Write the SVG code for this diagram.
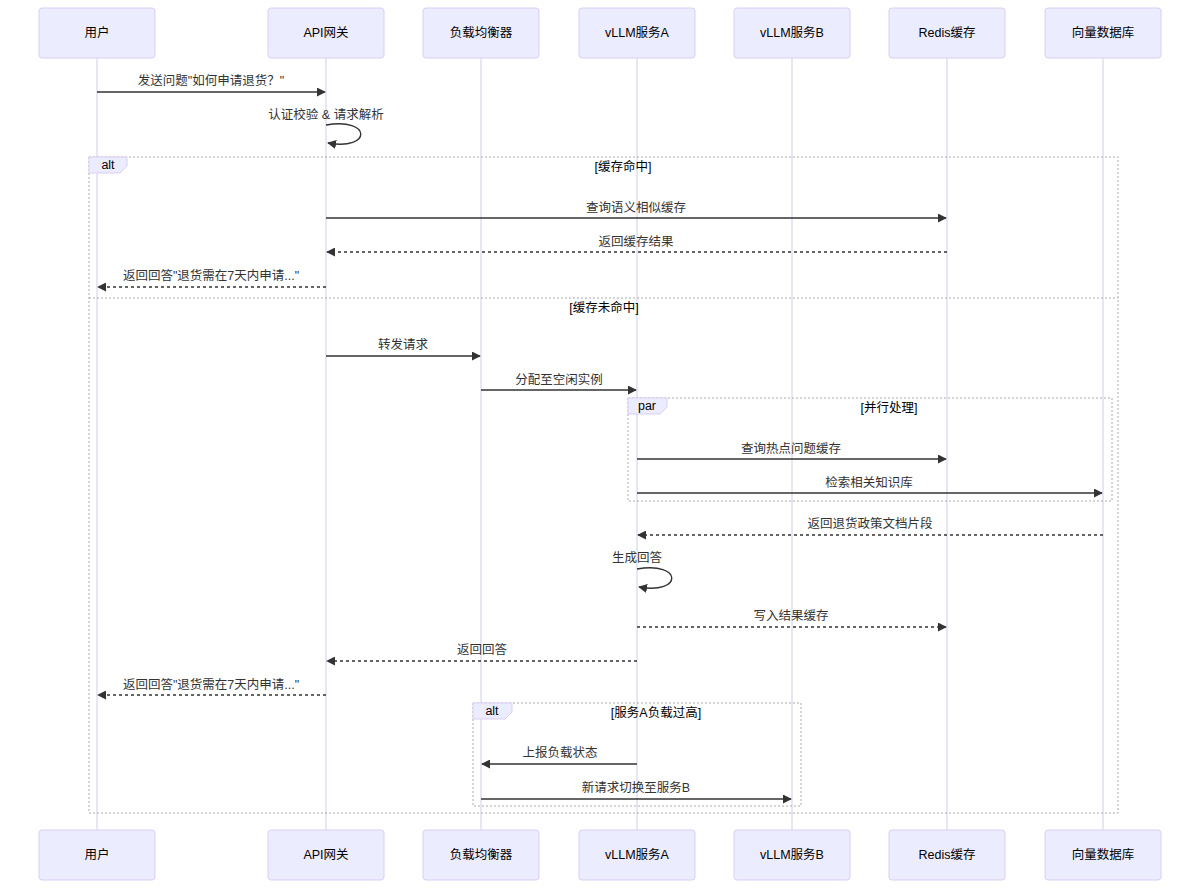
<svg xmlns="http://www.w3.org/2000/svg" width="1200" height="889" viewBox="0 0 1200 889">
<style>
text{font-family:"Liberation Sans","Noto Sans CJK SC",sans-serif;font-size:12.5px;fill:#333;}
.actor rect{fill:#ECECFF;stroke:#DACEF3;stroke-width:1;}
.actor text{text-anchor:middle;dominant-baseline:central;font-size:12.5px;fill:#000;}
.life{stroke:#CFCDE6;stroke-width:1;}
.msg{stroke:#333;stroke-width:1.4;fill:none;}
.dash{stroke-dasharray:3,3;}
.mt{text-anchor:middle;}
.loop{fill:none;stroke:#aaa;stroke-width:1;stroke-dasharray:2,2;}
.lbl{fill:#ECECFF;stroke:#DACEF3;stroke-width:1;}
.lt{text-anchor:middle;dominant-baseline:central;fill:#000;}
.cond{text-anchor:middle;dominant-baseline:central;fill:#000;}
</style>
<defs>
<marker id="ah" viewBox="0 0 10 10" refX="9" refY="5" markerWidth="9" markerHeight="9" markerUnits="userSpaceOnUse" orient="auto">
<path d="M0,0 L10,5 L0,10 z" fill="#333"/>
</marker>
</defs>
<g id="lifelines">
<line class="life" x1="97" y1="58" x2="97" y2="830"/>
<line class="life" x1="326" y1="58" x2="326" y2="830"/>
<line class="life" x1="481" y1="58" x2="481" y2="830"/>
<line class="life" x1="637" y1="58" x2="637" y2="830"/>
<line class="life" x1="792" y1="58" x2="792" y2="830"/>
<line class="life" x1="947" y1="58" x2="947" y2="830"/>
<line class="life" x1="1103" y1="58" x2="1103" y2="830"/>
</g>
<g id="frames">
<rect class="loop" x="89" y="157" width="1029" height="656"/>
<line class="loop" x1="89" y1="298" x2="1118" y2="298"/>
<polygon class="lbl" points="89,157 127,157 127,166 120,173 89,173"/>
<text class="lt" x="108" y="165">alt</text>
<text class="cond" x="623" y="167">[缓存命中]</text>
<text class="cond" x="604" y="308">[缓存未命中]</text>
<rect class="loop" x="628" y="398" width="484" height="103"/>
<polygon class="lbl" points="628,398 667,398 667,407 660,414 628,414"/>
<text class="lt" x="647" y="406">par</text>
<text class="cond" x="889" y="408">[并行处理]</text>
<rect class="loop" x="473" y="703" width="328" height="103"/>
<polygon class="lbl" points="473,703 512,703 512,712 505,719 473,719"/>
<text class="lt" x="492" y="711">alt</text>
<text class="cond" x="656" y="713">[服务A负载过高]</text>
</g>
<g id="actor-top">
<g id="user" class="actor"><rect x="39" y="8" width="116" height="50" rx="3"/><text x="97" y="33">用户</text></g>
<g id="gateway" class="actor"><rect x="268" y="8" width="116" height="50" rx="3"/><text x="326" y="33">API网关</text></g>
<g id="lb" class="actor"><rect x="423" y="8" width="116" height="50" rx="3"/><text x="481" y="33">负载均衡器</text></g>
<g id="vllmA" class="actor"><rect x="579" y="8" width="116" height="50" rx="3"/><text x="637" y="33">vLLM服务A</text></g>
<g id="vllmB" class="actor"><rect x="734" y="8" width="116" height="50" rx="3"/><text x="792" y="33">vLLM服务B</text></g>
<g id="redis" class="actor"><rect x="889" y="8" width="116" height="50" rx="3"/><text x="947" y="33">Redis缓存</text></g>
<g id="vdb" class="actor"><rect x="1045" y="8" width="116" height="50" rx="3"/><text x="1103" y="33">向量数据库</text></g>
</g>
<g id="actor-bottom">
<g id="user-b" class="actor"><rect x="39" y="830" width="116" height="50" rx="3"/><text x="97" y="855">用户</text></g>
<g id="gateway-b" class="actor"><rect x="268" y="830" width="116" height="50" rx="3"/><text x="326" y="855">API网关</text></g>
<g id="lb-b" class="actor"><rect x="423" y="830" width="116" height="50" rx="3"/><text x="481" y="855">负载均衡器</text></g>
<g id="vllmA-b" class="actor"><rect x="579" y="830" width="116" height="50" rx="3"/><text x="637" y="855">vLLM服务A</text></g>
<g id="vllmB-b" class="actor"><rect x="734" y="830" width="116" height="50" rx="3"/><text x="792" y="855">vLLM服务B</text></g>
<g id="redis-b" class="actor"><rect x="889" y="830" width="116" height="50" rx="3"/><text x="947" y="855">Redis缓存</text></g>
<g id="vdb-b" class="actor"><rect x="1045" y="830" width="116" height="50" rx="3"/><text x="1103" y="855">向量数据库</text></g>
</g>
<g id="connectors">
<line class="msg" x1="97" y1="92" x2="325" y2="92" marker-end="url(#ah)"/>
<text class="mt" x="211" y="85">发送问题"如何申请退货？"</text>
<path class="msg" d="M326,125 C372,117 372,151 328,143" marker-end="url(#ah)"/>
<text class="mt" x="326" y="119">认证校验 &amp; 请求解析</text>
<line class="msg" x1="326" y1="218" x2="946" y2="218" marker-end="url(#ah)"/>
<text class="mt" x="636" y="212">查询语义相似缓存</text>
<line class="msg dash" x1="947" y1="252" x2="327" y2="252" marker-end="url(#ah)"/>
<text class="mt" x="636" y="246">返回缓存结果</text>
<line class="msg dash" x1="326" y1="287" x2="98" y2="287" marker-end="url(#ah)"/>
<text class="mt" x="211" y="280">返回回答"退货需在7天内申请..."</text>
<line class="msg" x1="326" y1="356" x2="480" y2="356" marker-end="url(#ah)"/>
<text class="mt" x="403" y="349">转发请求</text>
<line class="msg" x1="481" y1="390" x2="636" y2="390" marker-end="url(#ah)"/>
<text class="mt" x="559" y="384">分配至空闲实例</text>
<line class="msg" x1="637" y1="459" x2="946" y2="459" marker-end="url(#ah)"/>
<text class="mt" x="791" y="453">查询热点问题缓存</text>
<line class="msg" x1="637" y1="493" x2="1102" y2="493" marker-end="url(#ah)"/>
<text class="mt" x="869" y="487">检索相关知识库</text>
<line class="msg dash" x1="1103" y1="535" x2="638" y2="535" marker-end="url(#ah)"/>
<text class="mt" x="870" y="528">返回退货政策文档片段</text>
<path class="msg" d="M637,569 C683,561 683,595 639,587" marker-end="url(#ah)"/>
<text class="mt" x="637" y="562">生成回答</text>
<line class="msg dash" x1="637" y1="627" x2="946" y2="627" marker-end="url(#ah)"/>
<text class="mt" x="791" y="620">写入结果缓存</text>
<line class="msg dash" x1="637" y1="661" x2="327" y2="661" marker-end="url(#ah)"/>
<text class="mt" x="482" y="654">返回回答</text>
<line class="msg dash" x1="326" y1="695" x2="98" y2="695" marker-end="url(#ah)"/>
<text class="mt" x="211" y="689">返回回答"退货需在7天内申请..."</text>
<line class="msg" x1="637" y1="764" x2="482" y2="764" marker-end="url(#ah)"/>
<text class="mt" x="560" y="757">上报负载状态</text>
<line class="msg" x1="481" y1="799" x2="791" y2="799" marker-end="url(#ah)"/>
<text class="mt" x="636" y="792">新请求切换至服务B</text>
</g>
</svg>
